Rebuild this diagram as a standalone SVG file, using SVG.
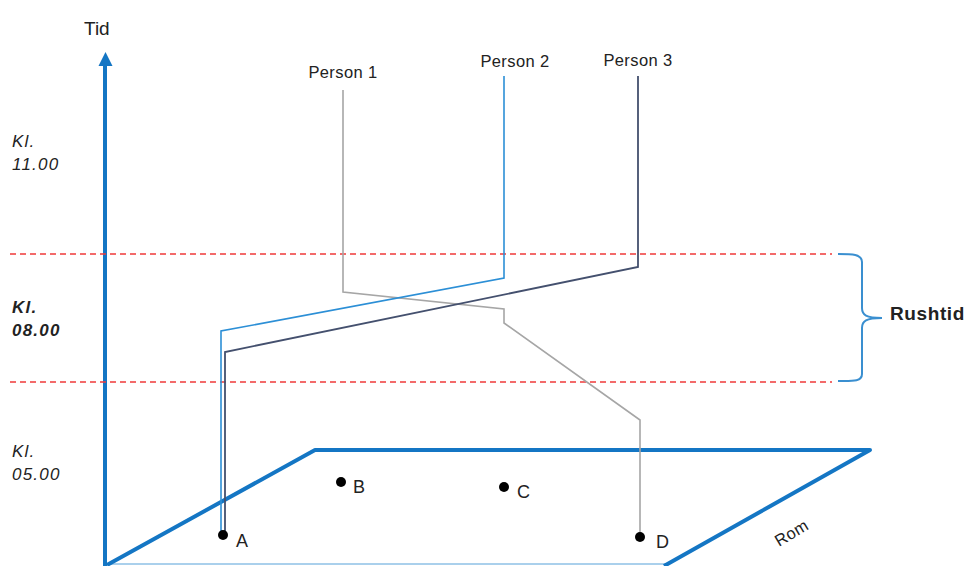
<svg xmlns="http://www.w3.org/2000/svg" width="967" height="566" viewBox="0 0 967 566">
<defs>
<style>
text{font-family:"Liberation Sans","DejaVu Sans",sans-serif;fill:#222}
.lbl{font-size:16.5px;letter-spacing:0.4px}
.pt{font-size:18px}
.kl{font-size:17px;font-style:italic;letter-spacing:1.2px}
.dash{stroke:#f03a3a;stroke-width:1.3;stroke-dasharray:6 4;fill:none}
.axis{stroke:#1476c4;stroke-width:4;fill:none}
.p1{stroke:#a6a6a6;stroke-width:1.6;fill:none}
.p2{stroke:#2c8fd6;stroke-width:1.6;fill:none}
.p3{stroke:#44506e;stroke-width:1.8;fill:none}
.dot{fill:#000}
</style>
</defs>
<rect width="967" height="566" fill="#fff"/>
<g id="axis">
<line class="axis" x1="105" y1="566" x2="105" y2="66"/>
<path d="M98.5,66 L105.5,52 L112.5,66 Z" fill="#1476c4"/>
<text x="84" y="35" font-size="19">Tid</text>
</g>
<g id="time-labels">
<text class="kl" x="12" y="147">Kl.</text>
<text class="kl" x="12" y="170">11.00</text>
<text class="kl" x="12" y="313" font-weight="bold">Kl.</text>
<text class="kl" x="12" y="336" font-weight="bold">08.00</text>
<text class="kl" x="12" y="457">Kl.</text>
<text class="kl" x="12" y="480">05.00</text>
</g>
<g id="rush-lines">
<line class="dash" x1="10" y1="254" x2="832" y2="254"/>
<line class="dash" x1="10" y1="382" x2="832" y2="382"/>
</g>
<g id="rushtid">
<path d="M838,254 C852,254 862,254 862,262 L862,308 C862,315 866,318 882,318 C866,318 862,321 862,328 L862,374 C862,382 852,381 838,381" fill="none" stroke="#3a8fd0" stroke-width="2"/>
<text x="890" y="320" font-size="19" font-weight="bold" fill="#111" letter-spacing="0.6">Rushtid</text>
</g>
<g id="room">
<line x1="107" y1="564" x2="666" y2="564" stroke="#8ec0e6" stroke-width="1.5"/>
<polyline points="107,565 315,450 870,450 664,566" fill="none" stroke="#1476c4" stroke-width="4" stroke-linejoin="round"/>
<text x="0" y="0" class="lbl" transform="translate(779,547) rotate(-31)">Rom</text>
</g>
<g id="connectors">
<polyline class="p1" points="343,90 343,292 504,309 504,323 640,420 640,537"/>
<polyline class="p2" points="504,76 504,278 221,331 221,535"/>
<polyline class="p3" points="638,76 638,267 225,352 225,535"/>
</g>
<g id="person1"><text class="lbl" x="343" y="78" text-anchor="middle">Person 1</text></g>
<g id="person2"><text class="lbl" x="515" y="67" text-anchor="middle">Person 2</text></g>
<g id="person3"><text class="lbl" x="638" y="66" text-anchor="middle">Person 3</text></g>
<g id="A"><circle class="dot" cx="223" cy="535" r="5"/><text class="pt" x="236" y="547">A</text></g>
<g id="B"><circle class="dot" cx="341" cy="482" r="5"/><text class="pt" x="353" y="493">B</text></g>
<g id="C"><circle class="dot" cx="504" cy="487" r="5"/><text class="pt" x="517" y="498">C</text></g>
<g id="D"><circle class="dot" cx="640" cy="537" r="5"/><text class="pt" x="656" y="548">D</text></g>
</svg>
